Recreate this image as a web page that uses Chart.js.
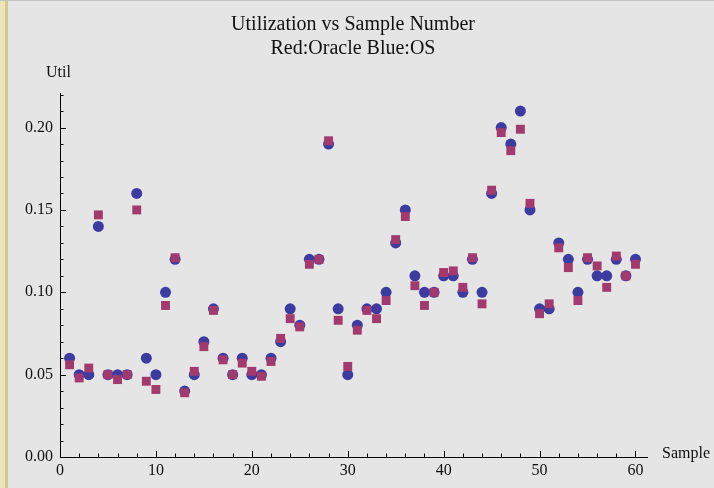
<!DOCTYPE html>
<html lang="en">
<head>
  <meta charset="UTF-8" />
  <title>Utilization vs Sample Number</title>
  <script src="https://cdn.jsdelivr.net/npm/chart.js"></script>
  <style>
    html, body { margin: 0; padding: 0; background: #e5e5e5; }
    #wrap { position: relative; width: 714px; height: 488px; overflow: hidden; }
    #stripe { position: absolute; left: 0; top: 0; width: 5px; height: 488px; background: #ede5b8; border-right: 3px solid #d3c893; }
    #topline { position: absolute; left: 0; top: 0; width: 714px; height: 1px; background: #c4c4c4; }
  </style>
</head>
<body>
  <div id="wrap">
    <canvas id="utilChart" width="714" height="488"></canvas>
    <div id="stripe"></div>
    <div id="topline"></div>
  </div>

  <script>
    // sample numbers 1..60
    const samples = [
      1, 2, 3, 4, 5, 6, 7, 8, 9, 10,
      11, 12, 13, 14, 15, 16, 17, 18, 19, 20,
      21, 22, 23, 24, 25, 26, 27, 28, 29, 30,
      31, 32, 33, 34, 35, 36, 37, 38, 39, 40,
      41, 42, 43, 44, 45, 46, 47, 48, 49, 50,
      51, 52, 53, 54, 55, 56, 57, 58, 59, 60
    ];

    // Blue: OS utilization
    const osUtil = [
      0.06, 0.05, 0.05, 0.14, 0.05, 0.05, 0.05, 0.16, 0.06, 0.05,
      0.10, 0.12, 0.04, 0.05, 0.07, 0.09, 0.06, 0.05, 0.06, 0.05,
      0.05, 0.06, 0.07, 0.09, 0.08, 0.12, 0.12, 0.19, 0.09, 0.05,
      0.08, 0.09, 0.09, 0.10, 0.13, 0.15, 0.11, 0.10, 0.10, 0.11,
      0.11, 0.10, 0.12, 0.10, 0.16, 0.20, 0.19, 0.21, 0.15, 0.09,
      0.09, 0.13, 0.12, 0.10, 0.12, 0.11, 0.11, 0.12, 0.11, 0.12
    ];

    // Red: Oracle utilization
    const oracleUtil = [
      0.056, 0.048, 0.054, 0.147, 0.050, 0.047, 0.050, 0.150, 0.046, 0.041,
      0.092, 0.121, 0.039, 0.052, 0.067, 0.089, 0.059, 0.050, 0.057, 0.052,
      0.049, 0.058, 0.072, 0.084, 0.079, 0.117, 0.120, 0.192, 0.083, 0.055,
      0.077, 0.089, 0.084, 0.095, 0.132, 0.146, 0.104, 0.092, 0.100, 0.112,
      0.113, 0.103, 0.121, 0.093, 0.162, 0.197, 0.186, 0.199, 0.154, 0.087,
      0.093, 0.127, 0.115, 0.095, 0.121, 0.116, 0.103, 0.122, 0.110, 0.117
    ];

    const titleLines = ['Utilization vs Sample Number', 'Red:Oracle Blue:OS'];
    const xMajorStep = 10, xMinorStep = 2;
    const yMajorStep = 0.05, yMinorStep = 0.01;

    const serif = '"Liberation Serif", "Times New Roman", serif';

    // title, inward ticks and axis names, like the original plot
    const axisExtras = {
      id: 'axisExtras',
      afterDraw(chart) {
        const ctx = chart.ctx;
        const xs = chart.scales.x, ys = chart.scales.y;
        const area = chart.chartArea;
        ctx.save();
        ctx.strokeStyle = '#000';
        ctx.lineWidth = 1;
        ctx.beginPath();
        for (let v = 0; v <= xs.max + 1e-9; v += xMinorStep) {
          const px = Math.round(xs.getPixelForValue(v)) + 0.5;
          const len = (Math.round(v) % xMajorStep === 0) ? 6 : 3.5;
          ctx.moveTo(px, area.bottom);
          ctx.lineTo(px, area.bottom - len);
        }
        for (let i = 0; i * yMinorStep <= ys.max + 1e-9; i++) {
          const v = i * yMinorStep;
          const py = Math.round(ys.getPixelForValue(v)) + 0.5;
          const len = (i % Math.round(yMajorStep / yMinorStep) === 0) ? 6 : 3.5;
          ctx.moveTo(area.left, py);
          ctx.lineTo(area.left + len, py);
        }
        ctx.stroke();

        ctx.fillStyle = '#111';
        ctx.textBaseline = 'middle';
        ctx.textAlign = 'center';
        ctx.font = '20px ' + serif;
        ctx.fillText(titleLines[0], 353, 25);
        ctx.fillText(titleLines[1], 353, 49);

        ctx.font = '16px ' + serif;
        ctx.textAlign = 'left';
        ctx.fillText('Util', 46, 73);
        ctx.fillText('Sample', 662, 454);
        ctx.restore();
      }
    };

    new Chart(document.getElementById('utilChart').getContext('2d'), {
      type: 'scatter',
      data: {
        datasets: [
          {
            label: 'Oracle',
            data: samples.map((s, i) => ({ x: s, y: oracleUtil[i] })),
            pointStyle: 'rect',
            pointRadius: 6.3,
            pointHoverRadius: 6.3,
            backgroundColor: 'rgb(162, 58, 110)',
            borderWidth: 0,
            order: 1
          },
          {
            label: 'OS',
            data: samples.map((s, i) => ({ x: s, y: osUtil[i] })),
            pointStyle: 'circle',
            pointRadius: 5.5,
            pointHoverRadius: 5.5,
            backgroundColor: 'rgb(60, 60, 160)',
            borderWidth: 0,
            order: 2
          }
        ]
      },
      options: {
        responsive: false,
        animation: false,
        layout: { padding: { left: 0, right: 67, top: 93, bottom: 0 } },
        plugins: {
          legend: { display: false },
          tooltip: { enabled: false },
          title: { display: false }
        },
        scales: {
          x: {
            type: 'linear',
            min: 0,
            max: 61.2,
            grid: { drawOnChartArea: false, drawTicks: false },
            border: { display: true, color: '#000', width: 1 },
            ticks: {
              stepSize: xMajorStep,
              includeBounds: false,
              padding: 4,
              color: '#111',
              font: { family: serif, size: 16 }
            },
            afterFit(scale) { scale.height = 31; }
          },
          y: {
            type: 'linear',
            min: 0,
            max: 0.221,
            grid: { drawOnChartArea: false, drawTicks: false },
            border: { display: true, color: '#000', width: 1 },
            ticks: {
              stepSize: yMajorStep,
              includeBounds: false,
              padding: 7,
              color: '#111',
              font: { family: serif, size: 16 },
              callback: v => v.toFixed(2)
            },
            afterFit(scale) { scale.width = 60; }
          }
        }
      },
      plugins: [axisExtras]
    });
  </script>
</body>
</html>
